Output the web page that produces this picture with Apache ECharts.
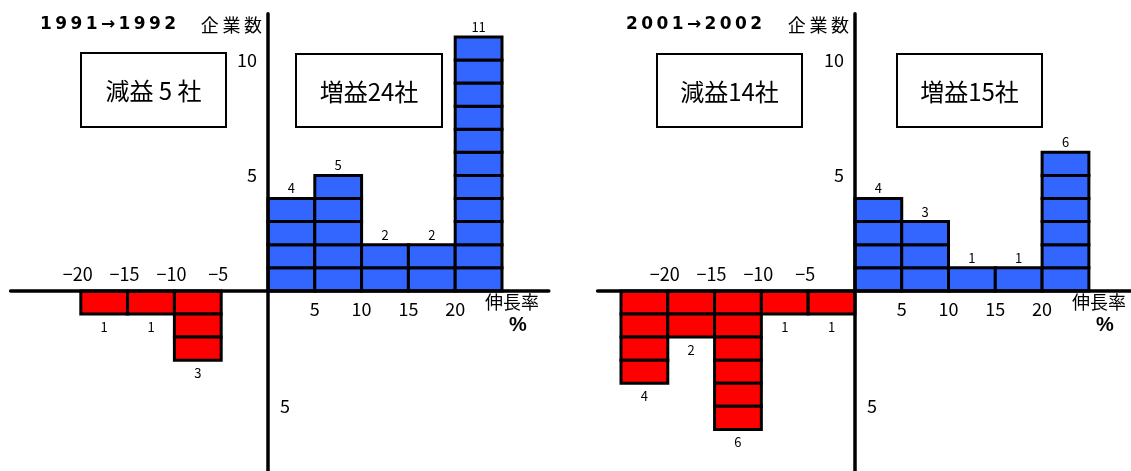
<!DOCTYPE html>
<html><head><meta charset="utf-8">
<script src="https://cdn.jsdelivr.net/npm/echarts@6/dist/echarts.min.js"></script>
<style>html,body{margin:0;padding:0;background:#fff}#c{width:1131px;height:471px}</style>
</head><body><div id="c"></div>
<script>
// bin lower edges (% growth), bin width 5
const binStarts = [-25, -20, -15, -10, -5, 0, 5, 10, 15, 20];
const binWidth = 5;
const counts1991 = [0, 1, 1, 3, 0, 4, 5, 2, 2, 11];
const counts2001 = [4, 2, 6, 1, 1, 4, 3, 1, 1, 6];
const titles = ['1991→1992', '2001→2002'];
const boxLabels1991 = ['減益 5 社', '増益24社'];
const boxLabels2001 = ['減益14社', '増益15社'];
const xTicksNeg = [-20, -15, -10, -5];
const xTicksPos = [5, 10, 15, 20];
const yTicksUp = [5, 10];
const yTicksDown = [-5];
const yAxisName = '企業数';
const xAxisName = '伸長率';
const xAxisUnit = '%';

const FONT = '"Noto Sans CJK JP", "Liberation Sans", sans-serif';
const BLUE = '#3366ff', RED = '#ff0000';

const chart = echarts.init(document.getElementById('c'), null, {renderer: 'canvas'});

function spaced(s) { return Array.from(s).join('\u2009'); }

function cellSeries(gi, counts) {
  const data = [];
  binStarts.forEach((s, i) => { if (counts[i] > 0) data.push([s, counts[i]]); });
  return {
    type: 'custom', xAxisIndex: gi, yAxisIndex: gi, data: data, z: 5,
    renderItem: function (params, api) {
      const lo = api.value(0), n = api.value(1), hi = lo + binWidth;
      const sign = lo < 0 ? -1 : 1;
      const children = [];
      for (let k = 0; k < n; k++) {
        const p1 = api.coord([lo, sign * k]);
        const p2 = api.coord([hi, sign * (k + 1)]);
        children.push({
          type: 'rect',
          shape: {x: p1[0], y: Math.min(p1[1], p2[1]), width: p2[0] - p1[0], height: Math.abs(p2[1] - p1[1])},
          style: {fill: sign < 0 ? RED : BLUE, stroke: '#000', lineWidth: 3}
        });
      }
      const mid = api.coord([lo + binWidth / 2, sign * n]);
      children.push({
        type: 'text',
        style: {text: String(n), x: mid[0], y: mid[1] + (sign < 0 ? 13 : -10),
          align: 'center', verticalAlign: 'middle', font: '13px ' + FONT, fill: '#000'}
      });
      return {type: 'group', children: children};
    }
  };
}

function tickSeries(gi) {
  const data = [];
  xTicksNeg.forEach(v => data.push([v, 0, 'xn', String(v).replace('-', '−')]));
  xTicksPos.forEach(v => data.push([v, 0, 'xp', String(v)]));
  yTicksUp.forEach(v => data.push([0, v, 'yu', String(v)]));
  yTicksDown.forEach(v => data.push([0, v, 'yd', String(Math.abs(v))]));
  return {
    type: 'custom', xAxisIndex: gi, yAxisIndex: gi, data: data, z: 6,
    encode: {x: 0, y: 1},
    renderItem: function (params, api) {
      const d = data[params.dataIndex];
      const p = api.coord([d[0], d[1]]);
      let x = p[0], y = p[1], align = 'center';
      if (d[2] === 'xn') { y = p[1] - 17; x = p[0] - 3; }
      else if (d[2] === 'xp') { y = p[1] + 18; }
      else if (d[2] === 'yu') { x = p[0] - 11; align = 'right'; }
      else if (d[2] === 'yd') { x = p[0] + 12; align = 'left'; }
      return {type: 'text', style: {text: d[3], x: x, y: y, align: align, verticalAlign: 'middle',
        font: '18px ' + FONT, fill: '#000'}};
    }
  };
}

const pxPerX = 9.36, pxPerY = 23.1;
const axisY = 291;
const axisXs = [268, 855];
const xMin = -27.5, xMaxs = [30, 29.5];
const yMin = -7.8, yMax = 12;

const grids = axisXs.map((ax, i) => ({
  left: ax + xMin * pxPerX,
  width: (xMaxs[i] - xMin) * pxPerX,
  top: axisY - yMax * pxPerY,
  height: (yMax - yMin) * pxPerY
}));

const axisLine = {show: true, onZero: true, lineStyle: {color: '#000', width: 3.5}};

function graphicsFor(i, ax, boxes) {
  const g = [];
  const boxPos = i === 0 ? [[81, 53, 145, 74], [296, 54, 146, 73]] : [[657, 54, 145, 73], [897, 54, 145, 73]];
  boxes.forEach((t, k) => {
    const b = boxPos[k];
    g.push({type: 'rect', shape: {x: b[0], y: b[1], width: b[2], height: b[3]},
      style: {fill: '#fff', stroke: '#000', lineWidth: 2}, z: 1});
    g.push({type: 'text', style: {text: t, x: b[0] + b[2] / 2, y: b[1] + b[3] / 2 + 1,
      align: 'center', verticalAlign: 'middle', font: '24px ' + FONT, fill: '#000'}, z: 2});
  });
  const tx = i === 0 ? 40 : 626;
  g.push({type: 'text', style: {text: spaced(titles[i]), x: tx, y: 25, verticalAlign: 'middle',
    font: 'bold 17px "DejaVu Sans", "Liberation Sans", sans-serif', fill: '#000'}, z: 2});
  g.push({type: 'text', style: {text: spaced(yAxisName), x: ax - 6, y: 25, align: 'right', verticalAlign: 'middle',
    font: '18px ' + FONT, fill: '#000'}, z: 2});
  const nx = i === 0 ? 512 : 1099;
  g.push({type: 'text', style: {text: xAxisName, x: nx, y: 302, align: 'center', verticalAlign: 'middle',
    font: '18px ' + FONT, fill: '#000'}, z: 2});
  g.push({type: 'text', style: {text: xAxisUnit, x: nx + 6, y: 325, align: 'center', verticalAlign: 'middle',
    font: 'bold 20px "Liberation Sans", sans-serif', fill: '#000'}, z: 2});
  return g;
}

const option = {
  animation: false,
  backgroundColor: '#fff',
  grid: grids,
  xAxis: grids.map((g, i) => ({type: 'value', gridIndex: i, min: xMin, max: xMaxs[i],
    axisLine: axisLine, axisTick: {show: false}, axisLabel: {show: false}, splitLine: {show: false}, z: 10})),
  yAxis: grids.map((g, i) => ({type: 'value', gridIndex: i, min: yMin, max: yMax,
    axisLine: axisLine, axisTick: {show: false}, axisLabel: {show: false}, splitLine: {show: false}, z: 10})),
  series: [cellSeries(0, counts1991), cellSeries(1, counts2001), tickSeries(0), tickSeries(1)],
  graphic: [].concat(graphicsFor(0, axisXs[0], boxLabels1991), graphicsFor(1, axisXs[1], boxLabels2001))
};
chart.setOption(option);
</script></body></html>
